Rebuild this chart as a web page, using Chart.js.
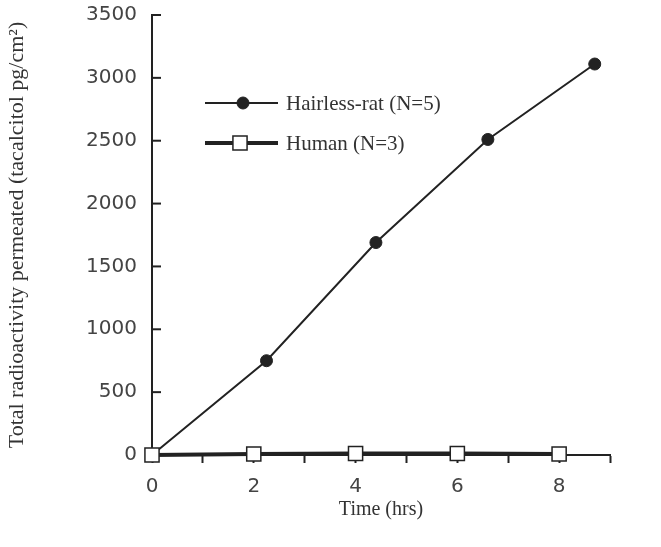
<!DOCTYPE html>
<html>
<head>
<meta charset="utf-8">
<script src="https://cdn.jsdelivr.net/npm/chart.js@4"></script>
<style>
  html, body { margin: 0; padding: 0; background: #fff; }
  #wrap { width: 661px; height: 547px; }
</style>
</head>
<body>
<div id="wrap"><canvas id="chart"></canvas></div>
<script>
// values
const timeRat = [0, 2.25, 4.4, 6.6, 8.7];
const ratValues = [0, 750, 1690, 2510, 3110];
const timeHuman = [0, 2, 4, 6, 8];
const humanValues = [0, 8, 12, 12, 8];
const xTickLabels = ['0', '', '2', '', '4', '', '6', '', '8', ''];
const yTickValues = [0, 500, 1000, 1500, 2000, 2500, 3000, 3500];

const ink = '#222';
const serif = 'Liberation Serif, Times New Roman, serif';

// inward ticks on the y axis + legend drawn inside the plot
const figureExtras = {
  id: 'figureExtras',
  afterDraw(chart) {
    const ctx = chart.ctx;
    const y = chart.scales.y;
    const left = chart.chartArea.left;
    ctx.save();
    ctx.strokeStyle = ink;
    ctx.lineWidth = 2;
    yTickValues.forEach(v => {
      if (v === 0) return;
      const py = y.getPixelForValue(v);
      ctx.beginPath();
      ctx.moveTo(left, py);
      ctx.lineTo(left + 9, py);
      ctx.stroke();
    });

    // legend
    const rows = [
      { ds: chart.data.datasets[1], y: 103, mx: 243 },
      { ds: chart.data.datasets[0], y: 143, mx: 240 }
    ];
    rows.forEach(r => {
      ctx.strokeStyle = ink;
      ctx.lineWidth = r.ds.borderWidth;
      ctx.beginPath();
      ctx.moveTo(205, r.y);
      ctx.lineTo(278, r.y);
      ctx.stroke();
      const rad = r.ds.pointRadius;
      ctx.lineWidth = r.ds.pointBorderWidth;
      ctx.fillStyle = r.ds.pointBackgroundColor;
      ctx.strokeStyle = r.ds.pointBorderColor;
      ctx.beginPath();
      if (r.ds.pointStyle === 'rect') {
        const s = rad * Math.SQRT2;
        ctx.rect(r.mx - s / 2, r.y - s / 2, s, s);
      } else {
        ctx.arc(r.mx, r.y, rad, 0, Math.PI * 2);
      }
      ctx.fill();
      ctx.stroke();
      ctx.fillStyle = '#333';
      ctx.font = '21px ' + serif;
      ctx.textBaseline = 'middle';
      ctx.fillText(r.ds.label, 286, r.y + 1);
    });
    ctx.restore();
  }
};

new Chart(document.getElementById('chart'), {
  type: 'line',
  data: {
    datasets: [
      {
        label: 'Human (N=3)',
        data: timeHuman.map((t, i) => ({ x: t, y: humanValues[i] })),
        borderColor: ink,
        borderWidth: 4,
        pointStyle: 'rect',
        pointRadius: 10,
        pointBackgroundColor: '#fff',
        pointBorderColor: ink,
        pointBorderWidth: 1.5,
        order: 0,
        clip: false,
        tension: 0
      },
      {
        label: 'Hairless-rat (N=5)',
        data: timeRat.map((t, i) => ({ x: t, y: ratValues[i] })),
        borderColor: ink,
        borderWidth: 2,
        pointStyle: 'circle',
        pointRadius: 6,
        pointBackgroundColor: ink,
        pointBorderColor: ink,
        pointBorderWidth: 1,
        order: 1,
        clip: false,
        tension: 0
      }
    ]
  },
  options: {
    responsive: true,
    maintainAspectRatio: false,
    animation: false,
    layout: { padding: { top: 0, right: 51, left: 0, bottom: 0 } },
    plugins: {
      legend: { display: false },
      tooltip: { enabled: false }
    },
    scales: {
      x: {
        type: 'linear',
        min: 0,
        max: 9,
        afterFit: s => { s.height = 92; },
        afterBuildTicks: s => { s.ticks = xTickLabels.map((_, i) => ({ value: i })); },
        ticks: {
          callback: (v, i) => xTickLabels[i] || '',
          autoSkip: false,
          maxRotation: 0,
          padding: 12,
          color: '#444',
          font: { family: 'DejaVu Sans', size: 20 }
        },
        grid: {
          drawOnChartArea: false,
          drawTicks: true,
          tickLength: 8,
          tickWidth: 2,
          tickColor: ink
        },
        border: { display: true, color: ink, width: 2 },
        title: {
          display: true,
          text: 'Time (hrs)',
          color: '#333',
          font: { family: serif, size: 20 },
          padding: { top: 0, bottom: 25 }
        }
      },
      y: {
        min: 0,
        max: 3500,
        afterFit: s => { s.width = 152; s.paddingTop = 15; },
        afterBuildTicks: s => { s.ticks = yTickValues.map(v => ({ value: v })); },
        ticks: {
          callback: v => String(v),
          padding: 7,
          color: '#444',
          font: { family: 'DejaVu Sans', size: 20 }
        },
        grid: { display: false },
        border: { display: true, color: ink, width: 2 },
        title: {
          display: true,
          text: 'Total radioactivity permeated (tacalcitol pg/cm²)',
          color: '#333',
          font: { family: serif, size: 22 },
          padding: { top: 4, bottom: 0 }
        }
      }
    }
  },
  plugins: [figureExtras]
});
</script>
</body>
</html>
